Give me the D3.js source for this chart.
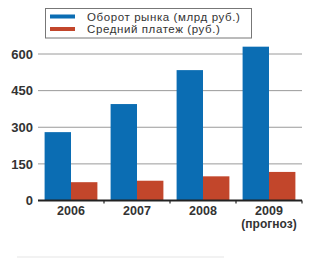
<!DOCTYPE html>
<html><head><meta charset="utf-8">
<script src="https://cdn.jsdelivr.net/npm/d3@7"></script>
<style>body{margin:0;background:#fff}svg{display:block}</style>
</head><body>
<svg id="c" width="324" height="260"></svg>
<script>
const categories = ["2006", "2007", "2008", "2009"];
const subLabels = ["", "", "", "(прогноз)"];
const seriesNames = ["Оборот рынка (млрд руб.)", "Средний платеж (руб.)"];
const turnover = [280, 395, 534, 630];
const payment = [75, 81, 99, 117];
const yTicks = [0, 150, 300, 450, 600];
const colors = ["#0b6db3", "#c2462b"];

const svg = d3.select("#c");
const font = "Liberation Sans, Arial, sans-serif";
const x0 = 38, x1 = 302, yTop = 54, yBot = 200.5;
const x = d3.scaleBand().domain(categories).range([x0, x1]).paddingInner(0.2).paddingOuter(0.1);
const y = d3.scaleLinear().domain([0, 600]).range([yBot, yTop]);
const xs = d3.scaleBand().domain([0, 1]).range([0, x.bandwidth()]);

// gridlines
svg.append("g").selectAll("line").data(yTicks.filter(d => d > 0)).join("line")
  .attr("x1", x0).attr("x2", x1).attr("y1", d => y(d)).attr("y2", d => y(d))
  .attr("stroke", "#9a9a9a").attr("stroke-width", 1);

// y labels
svg.append("g").selectAll("text").data(yTicks).join("text")
  .attr("x", 33).attr("y", d => y(d)).attr("dy", "0.36em")
  .attr("text-anchor", "end").attr("font-family", font)
  .attr("font-size", 13).attr("font-weight", "bold").attr("fill", "#333").text(d => d);

// bars
const data = categories.map((c, i) => ({ c, v: [turnover[i], payment[i]] }));
const g = svg.append("g").selectAll("g").data(data).join("g")
  .attr("transform", d => `translate(${x(d.c)},0)`);
g.selectAll("rect").data(d => d.v.map((v, k) => ({ v, k }))).join("rect")
  .attr("x", d => xs(d.k)).attr("width", xs.bandwidth())
  .attr("y", d => y(d.v)).attr("height", d => y(0) - y(d.v))
  .attr("fill", d => colors[d.k]);

// x axis line and ticks
svg.append("line").attr("x1", x0).attr("x2", x1).attr("y1", yBot).attr("y2", yBot)
  .attr("stroke", "#222").attr("stroke-width", 2);
const step = x.step();
svg.append("g").selectAll("line").data(categories).join("line")
  .attr("x1", d => x(d) + x.bandwidth() + (step - x.bandwidth()) / 2)
  .attr("x2", d => x(d) + x.bandwidth() + (step - x.bandwidth()) / 2)
  .attr("y1", yBot).attr("y2", yBot + 3).attr("stroke", "#222").attr("stroke-width", 1.2);

// x labels
const xl = svg.append("g").attr("font-family", font)
  .attr("font-weight", "bold").attr("fill", "#333").attr("text-anchor", "middle");
xl.selectAll("text.a").data(categories).join("text").attr("class", "a")
  .attr("x", d => x(d) + x.bandwidth() / 2).attr("y", 214.5).attr("font-size", 12.5).text(d => d);
xl.selectAll("text.b").data(categories).join("text").attr("class", "b")
  .attr("x", d => x(d) + x.bandwidth() / 2).attr("y", 227.5).attr("font-size", 12).text((d, i) => subLabels[i]);

// legend
const lg = svg.append("g");
lg.append("rect").attr("x", 45.5).attr("y", 8.5).attr("width", 206).attr("height", 29.5)
  .attr("fill", "#fff").attr("stroke", "#777").attr("stroke-width", 1);
seriesNames.forEach((n, i) => {
  const cy = 16.5 + i * 12.5;
  lg.append("rect").attr("x", 50).attr("y", cy - 2).attr("width", 25).attr("height", 4).attr("fill", colors[i]);
  lg.append("text").attr("x", 87).attr("y", cy).attr("dy", "0.35em")
    .attr("font-family", font).attr("font-size", 11.5).attr("letter-spacing", 0.6)
    .attr("fill", "#333").text(n);
});

// faint bottom rule
svg.append("line").attr("x1", 17).attr("x2", 224).attr("y1", 257).attr("y2", 257)
  .attr("stroke", "#f2f2f2").attr("stroke-width", 2);
</script>
</body></html>
